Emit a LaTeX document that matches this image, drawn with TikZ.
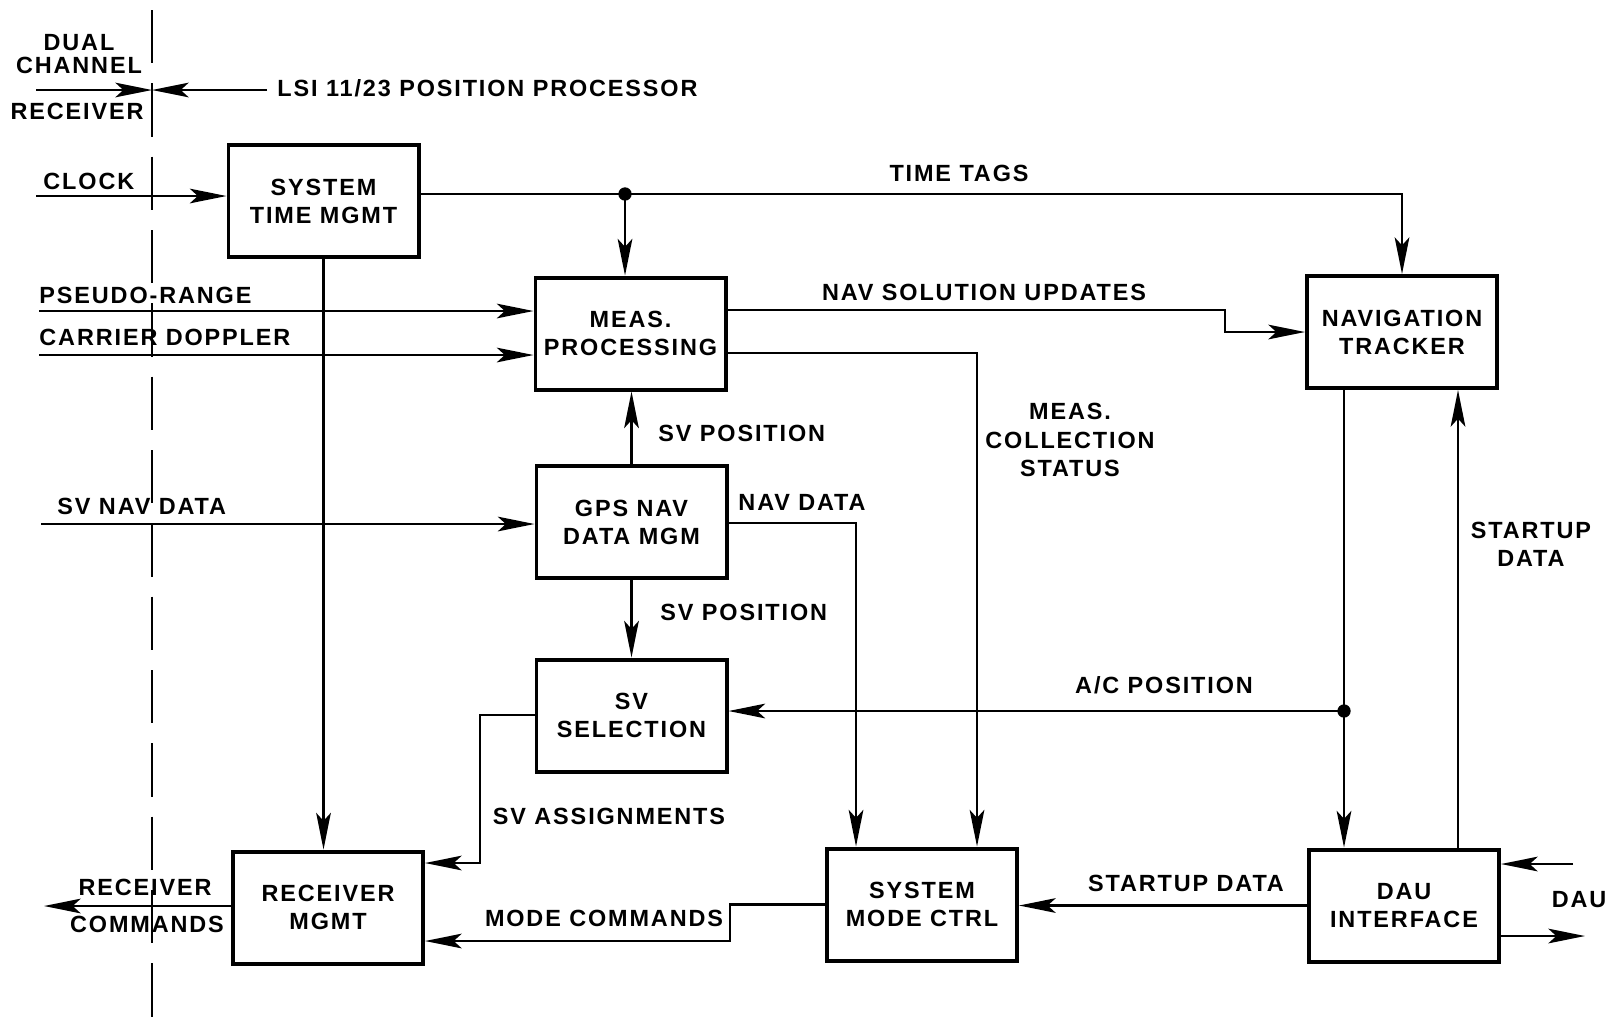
\documentclass[tikz,border=0pt]{standalone}
\usepackage{fontspec}
\setmainfont{Liberation Sans}[LetterSpace=8]
\usetikzlibrary{arrows.meta}

\begin{document}
\begin{tikzpicture}[
  x=0.15mm, y=-0.15mm,
  font=\bfseries,
  box/.style={draw, line width=1.7pt, align=center,
              minimum width=28.5mm, minimum height=16.8mm, inner sep=2pt},
  flow/.style={-{Stealth[length=5.5mm,width=2.2mm,inset=1.2mm]}, line width=0.9pt},
  wire/.style={line width=0.9pt},
  lbl/.style={align=center, inner sep=0pt},
  junction/.style={circle, fill, inner sep=0pt, minimum size=2mm},
  boundary/.style={line width=1.2pt, dash pattern=on 8mm off 3mm},
]
\useasboundingbox (0,0) rectangle (1621,1019);

% ---- Boxes ----
\node[box] (stm)   at (323.5,201)  {SYSTEM\\TIME MGMT};
\node[box] (meas)  at (630.5,333.5) {MEAS.\\PROCESSING};
\node[box] (gps)   at (631.5,522)  {GPS NAV\\DATA MGM};
\node[box] (svsel) at (631.5,715.5) {SV\\SELECTION};
\node[box] (rcvr)  at (328,907.5)  {RECEIVER\\MGMT};
\node[box] (smc)   at (922,904.5)  {SYSTEM\\MODE CTRL};
\node[box] (nav)   at (1402,332)   {NAVIGATION\\TRACKER};
\node[box] (dau)   at (1404,905.5) {DAU\\INTERFACE};

% ---- Receiver / processor boundary ----
\coordinate (bdTop) at (152,10);
\coordinate (bdBot) at (152,1019);
\draw[boundary] (bdTop) -- (bdBot);
\coordinate (bd)    at (152,90);
\coordinate (dcIn)  at (36,90);
\coordinate (lsiIn) at (267,90);
\draw[flow] (dcIn) -- (bd);
\draw[flow] (lsiIn) -- (bd);
\node[lbl] (dcLbl)  at (79,54)  {DUAL\\[-2pt]CHANNEL};
\node[lbl] (rcLbl)  at (77,111) {RECEIVER};
\node[lbl, anchor=west] (lsiLbl) at (277,88) {LSI 11/23 POSITION PROCESSOR};

% ---- Inputs on the left ----
\coordinate (clkIn) at (36,196);
\coordinate (prIn)  at (39,311);
\coordinate (cdIn)  at (39,355);
\coordinate (svnIn) at (41,524);
\draw[flow] (clkIn) -- (clkIn -| stm.west);
\draw[flow] (prIn)  -- (prIn -| meas.west);
\draw[flow] (cdIn)  -- (cdIn -| meas.west);
\draw[flow] (svnIn) -- (svnIn -| gps.west);
\node[lbl, anchor=west] (clkLbl) at (43,181)  {CLOCK};
\node[lbl, anchor=west] (prLbl)  at (39,295)  {PSEUDO-RANGE};
\node[lbl, anchor=west] (cdLbl)  at (39,337)  {CARRIER DOPPLER};
\node[lbl, anchor=west] (svnLbl) at (57,506)  {SV NAV DATA};

% ---- Time tags ----
\coordinate (ttDot) at (625,194);
\draw[wire] (stm.east |- ttDot) -- (ttDot);
\draw[flow] (ttDot) -| (nav.north);
\draw[flow] (ttDot) -- (ttDot |- meas.north);
\node[junction] at (ttDot) {};
\node[lbl] (ttLbl) at (959,173) {TIME TAGS};
\draw[flow] (stm.south) -- (stm.south |- rcvr.north);

% ---- Measurement processing outputs ----
\coordinate (nsBend) at (1225,310);
\draw[flow] (meas.east |- nsBend) -- (nsBend) |- (nav.west);
\node[lbl] (nsLbl) at (984,292) {NAV SOLUTION UPDATES};
\coordinate (mcBend) at (977,353);
\draw[flow] (meas.east |- mcBend) -- (mcBend) -- (mcBend |- smc.north);
\node[lbl] (mcLbl) at (1070,440) {MEAS.\\COLLECTION\\STATUS};

% ---- GPS nav data ----
\draw[flow] (gps.north) -- (gps.north |- meas.south);
\node[lbl, anchor=west] (svp1Lbl) at (658,433) {SV POSITION};
\draw[flow] (gps.south) -- (gps.south |- svsel.north);
\node[lbl, anchor=west] (svp2Lbl) at (660,612) {SV POSITION};
\coordinate (ndBend) at (856,523);
\draw[flow] (gps.east |- ndBend) -- (ndBend) -- (ndBend |- smc.north);
\node[lbl, anchor=west] (ndLbl) at (738,502) {NAV DATA};

% ---- Navigation tracker / DAU ----
\coordinate (acDot) at (1344,711);
\draw[flow] (nav.south -| acDot) -- (acDot |- dau.north);
\draw[flow] (acDot) -- (acDot -| svsel.east);
\node[junction] at (acDot) {};
\node[lbl] (acLbl) at (1164,685) {A/C POSITION};
\coordinate (suUp) at (1458,850);
\draw[flow] (suUp) -- (suUp |- nav.south);
\node[lbl] (su1Lbl) at (1531,544) {STARTUP\\DATA};
\draw[flow] (dau.west) -- (dau.west -| smc.east);
\node[lbl] (su2Lbl) at (1186,883) {STARTUP DATA};
\coordinate (dauIn)  at (1573,864);
\coordinate (dauOut) at (1585,936);
\draw[flow] (dauIn) -- (dauIn -| dau.east);
\draw[flow] (dauOut -| dau.east) -- (dauOut);
\node[lbl] (dauLbl) at (1579,900) {DAU};

% ---- Receiver management ----
\coordinate (saBend) at (480,715);
\coordinate (saEnd)  at (480,863);
\draw[flow] (svsel.west |- saBend) -- (saBend) -- (saEnd) -- (saEnd -| rcvr.east);
\node[lbl] (saLbl) at (609,816) {SV ASSIGNMENTS};
\coordinate (mdBend) at (730,941);
\draw[flow] (smc.west) -| (mdBend) -- (mdBend -| rcvr.east);
\node[lbl] (mdLbl) at (604,918) {MODE COMMANDS};
\coordinate (rcOut) at (44,906);
\draw[flow] (rcvr.west |- rcOut) -- (rcOut);
\node[lbl] (rc1Lbl) at (145,887) {RECEIVER};
\node[lbl] (rc2Lbl) at (147,924) {COMMANDS};

\end{tikzpicture}
\end{document}
